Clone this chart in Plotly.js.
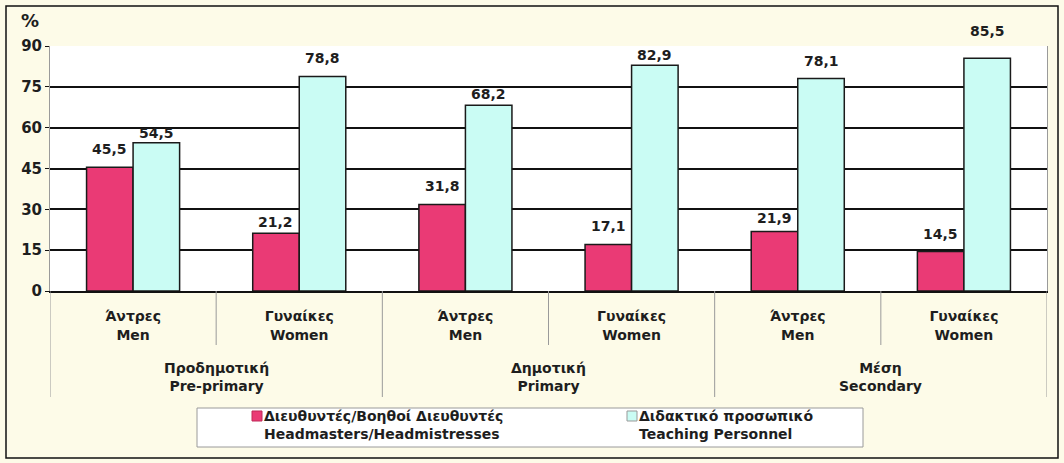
<!DOCTYPE html>
<html>
<head>
<meta charset="utf-8">
<script src="https://cdn.plot.ly/plotly-3.0.1.min.js"></script>
<style>html,body{margin:0;padding:0;background:#fdfbe8;}</style>
</head>
<body>
<div id="chart" style="width:1064px;height:463px;"></div>
<script>
// Data
const childLabels = ["Άντρες<br>Men", "Γυναίκες<br>Women", "Άντρες<br>Men", "Γυναίκες<br>Women", "Άντρες<br>Men", "Γυναίκες<br>Women"];
const parentLabels = ["Προδημοτική<br>Pre-primary", "Δημοτική<br>Primary", "Μέση<br>Secondary"];
const headValues = [45.5, 21.2, 31.8, 17.1, 21.9, 14.5];
const teachValues = [54.5, 78.8, 68.2, 82.9, 78.1, 85.5];
const seriesNames = ["Διευθυντές/Βοηθοί Διευθυντές<br>Headmasters/Headmistresses", "Διδακτικό προσωπικό<br>Teaching Personnel"];
const yTicks = [0, 15, 30, 45, 60, 75, 90];

// Styling
const seriesColors = ["#ea3a75", "#cafcf4"];
const labelLift = [[8, 1, 8, 8, 3, 8], [0, 8, 1, 0, 7, 17]]; // extra px above bars for value labels
const BARGAP = 0.44;

const xIdx = childLabels.map((_, i) => i);
const FONT = "DejaVu Sans, Verdana, sans-serif";
const TXT = "#1e1e1e";

// pixel -> paper helpers (plot area: x 50..1047, y 46..291)
const px = v => (v - 50) / 997;
const py = v => (291 - v) / 245;

const series = [headValues, teachValues];
const traces = series.map((vals, k) => ({
  type: "bar", x: xIdx, y: vals, name: seriesNames[k],
  marker: {color: seriesColors[k], line: {color: "#1a1a1a", width: 1.5}},
  hoverinfo: "skip", showlegend: false
}));

const shapes = [];
// child dividers
[0.5, 2.5, 4.5].forEach(x => shapes.push({type: "line", xref: "x", yref: "paper", x0: x, x1: x, y0: 0, y1: py(345), line: {color: "#9a9a9a", width: 1}}));
// parent dividers
[-0.5, 1.5, 3.5, 5.5].forEach(x => shapes.push({type: "line", xref: "x", yref: "paper", x0: x, x1: x, y0: 0, y1: py(397), line: {color: "#9a9a9a", width: 1}}));
// legend box
shapes.push({type: "rect", xref: "paper", yref: "paper", x0: px(197), x1: px(863), y0: py(447), y1: py(408), fillcolor: "#ffffff", line: {color: "#9a9a9a", width: 1}, layer: "below"});
// legend swatches
const swX = [252, 627];
swX.forEach((x, k) => shapes.push({type: "rect", xref: "paper", yref: "paper", x0: px(x), x1: px(x + 10), y0: py(421), y1: py(411), fillcolor: seriesColors[k], line: {color: k === 0 ? "#c02858" : "#999", width: 1}}));
// outer border
shapes.push({type: "rect", xref: "paper", yref: "paper", x0: px(6), x1: px(1058), y0: py(458), y1: py(6), line: {color: "#111", width: 1.5}});

const annotations = [];
// value labels above bars
const off = (1 - BARGAP) / 4;
series.forEach((vals, k) => vals.forEach((v, i) => annotations.push({
  xref: "x", yref: "y", x: i + (k === 0 ? -off : off), y: v,
  text: v.toFixed(1).replace(".", ","), showarrow: false,
  yanchor: "middle", xanchor: "center", yshift: 10 + labelLift[k][i],
  font: {family: FONT, size: 14, color: TXT, weight: "bold"}
})));
// parent category labels
[0.5, 2.5, 4.5].forEach((x, i) => annotations.push({
  xref: "x", yref: "paper", x: x, y: py(377), text: parentLabels[i], showarrow: false,
  font: {family: FONT, size: 14, color: TXT, weight: "bold"}, yanchor: "middle", xanchor: "center"
}));
// legend texts
swX.forEach((x, k) => annotations.push({
  xref: "paper", yref: "paper", x: px(x + 10), y: py(425), text: seriesNames[k], showarrow: false, align: "left",
  font: {family: FONT, size: 14, color: TXT, weight: "bold"}, xanchor: "left", yanchor: "middle"
}));
annotations.push({xref: "paper", yref: "paper", x: px(19), y: py(20), text: "%", showarrow: false,
  font: {family: FONT, size: 18, color: TXT, weight: "bold"}, xanchor: "left", yanchor: "middle"});

const layout = {
  width: 1064, height: 463,
  margin: {l: 50, r: 17, t: 46, b: 172},
  paper_bgcolor: "#fdfbe8",
  plot_bgcolor: "#ffffff",
  separators: ",.",
  barmode: "group", bargap: BARGAP, bargroupgap: 0,
  showlegend: false,
  xaxis: {
    range: [-0.5, 5.5], tickvals: xIdx, ticktext: childLabels, ticks: "", showgrid: false,
    zeroline: false, showline: true, linecolor: "#111", linewidth: 1.5, ticklabelstandoff: 12,
    tickfont: {family: FONT, size: 14, color: TXT, weight: "bold"}, fixedrange: true
  },
  yaxis: {
    range: [0, 90], tickvals: yTicks, ticks: "outside", ticklen: 4, tickcolor: "#111",
    showgrid: true, gridcolor: "#111", gridwidth: 2, zeroline: false,
    showline: true, mirror: true, linecolor: "#9a9a9a", linewidth: 1,
    tickfont: {family: FONT, size: 15, color: TXT, weight: "bold"}, fixedrange: true
  },
  shapes: shapes,
  annotations: annotations
};

Plotly.newPlot("chart", traces, layout, {displayModeBar: false, staticPlot: true});
</script>
</body>
</html>
